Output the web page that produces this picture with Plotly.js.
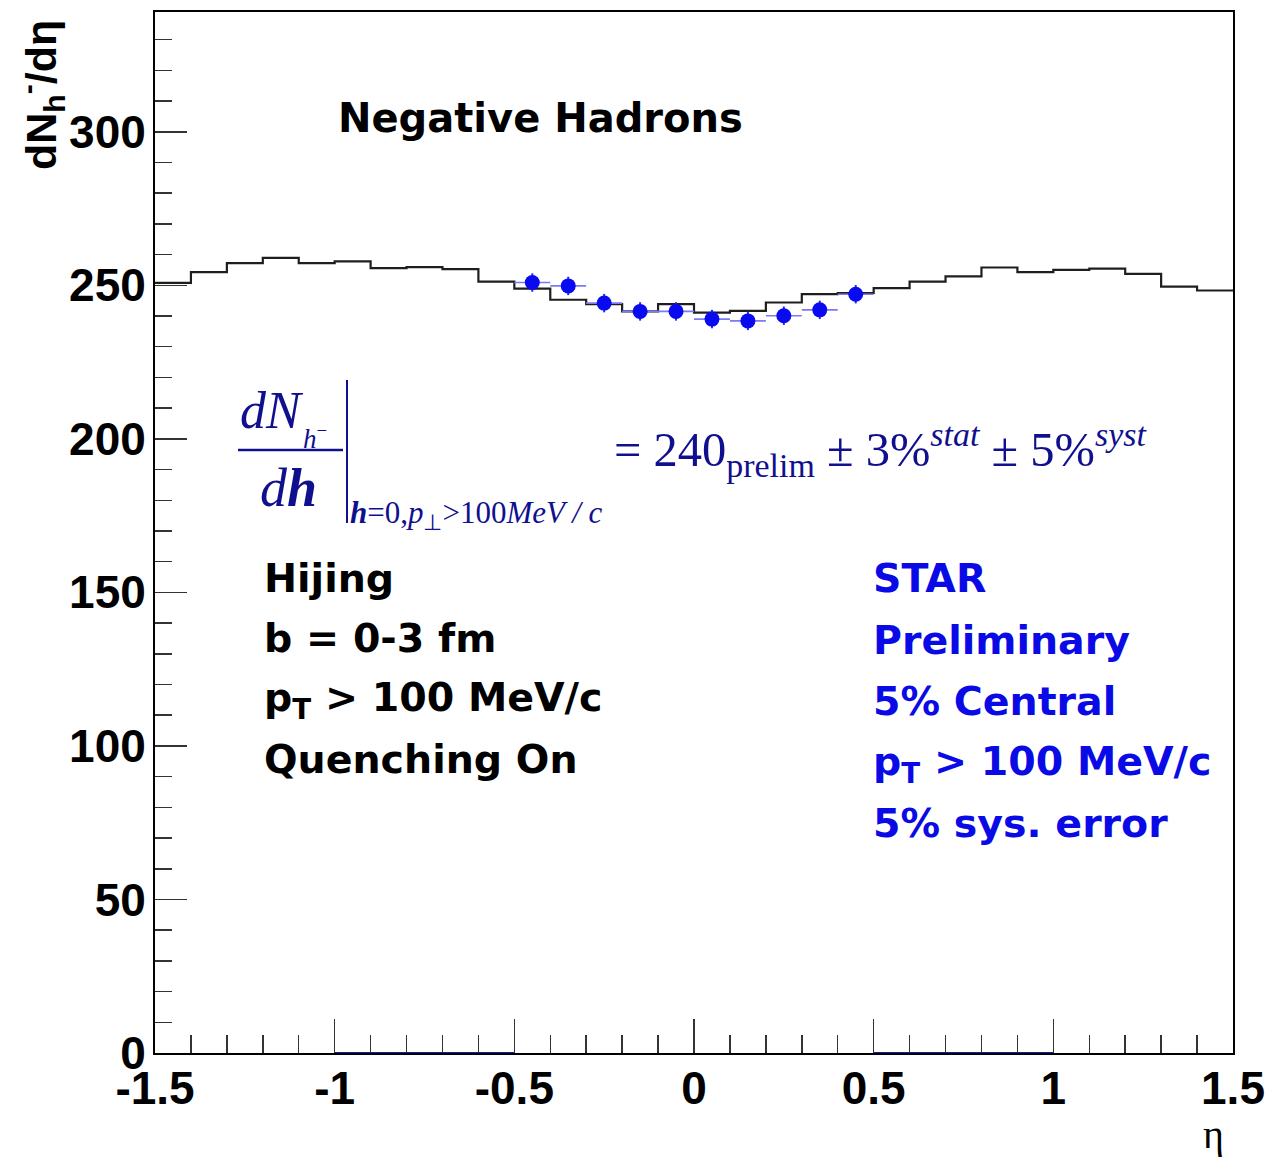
<!DOCTYPE html>
<html>
<head>
<meta charset="utf-8">
<script src="https://cdn.plot.ly/plotly-3.0.1.min.js"></script>
<style>
  html, body { margin: 0; padding: 0; background: #ffffff; }
  #chart { width: 1273px; height: 1159px; }
</style>
</head>
<body>
<div id="chart"></div>
<script>
// Hijing negative-hadron pseudorapidity density, bins of width 0.1 (lower edges)
const binLowEdges = [-1.5, -1.4, -1.3, -1.2, -1.1, -1.0, -0.9, -0.8, -0.7, -0.6,
                     -0.5, -0.4, -0.3, -0.2, -0.1, 0.0, 0.1, 0.2, 0.3, 0.4,
                     0.5, 0.6, 0.7, 0.8, 0.9, 1.0, 1.1, 1.2, 1.3, 1.4];
const binUpperEnd = 1.5;
const hijingCounts = [250.8, 254.3, 257.2, 258.9, 257.2, 257.8, 255.6, 255.9, 255.3, 251.2,
                      248.9, 245.3, 243.9, 241.5, 243.9, 241.1, 241.7, 244.4, 247.1, 247.5,
                      249.1, 251.2, 252.9, 255.8, 254.3, 255.0, 255.4, 253.7, 249.6, 248.3];

// STAR preliminary points
const starEta = [-0.45, -0.35, -0.25, -0.15, -0.05, 0.05, 0.15, 0.25, 0.35, 0.45];
const starDensity = [250.9, 249.8, 244.2, 241.5, 241.5, 239.0, 238.4, 240.1, 242.0, 247.1];
const starStatErr = [3, 3, 3, 3, 3, 3, 3, 3, 3, 3];
const starEtaHalfWidth = [0.05, 0.05, 0.05, 0.05, 0.05, 0.05, 0.05, 0.05, 0.05, 0.05];

// empty-bin outlines lying on the eta axis
const zeroSegEta = [-1.0, -0.5, null, 0.5, 1.0];
const zeroSegVal = [0, 0, null, 0, 0];

// axis ticks
const xTickVals = [-1.5, -1, -0.5, 0, 0.5, 1, 1.5];
const xTickText = ['-1.5', '-1', '-0.5', '0', '0.5', '1', '1.5'];
const yTickVals = [0, 50, 100, 150, 200, 250, 300];
const yTickText = ['0', '50', '100', '150', '200', '250', '300'];

// text blocks
const titleText = 'Negative Hadrons';
const hijingLines = ['Hijing', 'b = 0-3 fm', 'p<sub>T</sub> &gt; 100 MeV/c', 'Quenching On'];
const starLines = ['STAR', 'Preliminary', '5% Central', 'p<sub>T</sub> &gt; 100 MeV/c', '5% sys. error'];

// ---- layout geometry (pixels) ----
const W = 1273, H = 1159;
const L = 155, R = 1233, T = 12, B = 1053;
const px = x => (x - L) / (R - L);
const py = y => (B - y) / (B - T);

const histX = binLowEdges.concat([binUpperEnd]);
const histY = hijingCounts.concat([hijingCounts[hijingCounts.length - 1]]);

const traces = [
  {
    type: 'scatter', mode: 'lines',
    x: histX, y: histY,
    line: { shape: 'hv', color: '#1e1e1e', width: 2.2 },
    hoverinfo: 'skip'
  },
  {
    type: 'scatter', mode: 'lines',
    x: zeroSegEta, y: zeroSegVal,
    line: { color: '#1a1aa0', width: 2 },
    hoverinfo: 'skip'
  },
  {
    type: 'scatter', mode: 'markers',
    x: starEta, y: starDensity,
    marker: { color: '#0a0af0', size: 15, symbol: 'circle' },
    error_y: { type: 'data', array: starStatErr, visible: true, color: '#2828f0', thickness: 2, width: 0 },
    error_x: { type: 'data', array: starEtaHalfWidth, visible: true, color: '#7a7af5', thickness: 1.6, width: 0 }
  }
];

const sansBold = 'Liberation Sans, Arial, sans-serif';
const textFontFamily = 'DejaVu Sans, sans-serif';
const serif = 'Liberation Serif, Times New Roman, serif';
const navy = '#10108f';
const blue = '#0a0ae6';

const annotations = [];

// plot heading
annotations.push({
  xref: 'paper', yref: 'paper', x: px(540), y: py(118), xanchor: 'center', yanchor: 'middle',
  text: '<b>' + titleText + '</b>', showarrow: false,
  font: { family: textFontFamily, size: 40, color: '#000000' }
});

// Hijing settings block
const hijingY = [578, 638, 700, 759];
hijingLines.forEach((t, i) => {
  annotations.push({
    xref: 'paper', yref: 'paper', x: px(262), y: py(hijingY[i]), xanchor: 'left', yanchor: 'middle',
    text: '<b>' + t + '</b>', showarrow: false,
    font: { family: textFontFamily, size: 39.5, color: '#000000' }
  });
});

// STAR block
const starY = [578, 640, 701, 764, 823];
starLines.forEach((t, i) => {
  annotations.push({
    xref: 'paper', yref: 'paper', x: px(871), y: py(starY[i]), xanchor: 'left', yanchor: 'middle',
    text: '<b>' + t + '</b>', showarrow: false,
    font: { family: textFontFamily, size: 39.5, color: blue }
  });
});

// dN/deta formula: numerator
annotations.push({
  xref: 'paper', yref: 'paper', x: px(238), y: py(410), xanchor: 'left', yanchor: 'middle',
  text: '<i>dN</i>', showarrow: false,
  font: { family: serif, size: 52, color: navy }
});
annotations.push({
  xref: 'paper', yref: 'paper', x: px(301), y: py(437), xanchor: 'left', yanchor: 'middle',
  text: '<i>h</i><sup>−</sup>', showarrow: false,
  font: { family: serif, size: 27, color: navy }
});
// denominator
annotations.push({
  xref: 'paper', yref: 'paper', x: px(258), y: py(488), xanchor: 'left', yanchor: 'middle',
  text: '<i>d</i><b><i>h</i></b>', showarrow: false,
  font: { family: serif, size: 54, color: navy }
});
// evaluation condition
annotations.push({
  xref: 'paper', yref: 'paper', x: px(348), y: py(515), xanchor: 'left', yanchor: 'middle',
  text: '<b><i>h</i></b>=0,<i>p</i><sub>⊥</sub>&gt;100<i>MeV / c</i>', showarrow: false,
  font: { family: serif, size: 31, color: navy }
});
// result
annotations.push({
  xref: 'paper', yref: 'paper', x: px(612), y: py(450), xanchor: 'left', yanchor: 'middle',
  text: '= 240<sub>prelim</sub> ± 3%<sup><i>stat</i></sup> ± 5%<sup><i>syst</i></sup>', showarrow: false,
  font: { family: serif, size: 48.5, color: navy }
});

// y-axis title
annotations.push({
  xref: 'paper', yref: 'paper', x: px(41), y: py(95), xanchor: 'center', yanchor: 'middle',
  textangle: -90,
  text: '<b>dN<sub>h</sub><sup>-</sup>/dη</b>', showarrow: false,
  font: { family: sansBold, size: 43, color: '#000000' }
});
// x-axis title
annotations.push({
  xref: 'paper', yref: 'paper', x: px(1213), y: py(1134), xanchor: 'center', yanchor: 'middle',
  text: 'η', showarrow: false,
  font: { family: serif, size: 40, color: '#000000' }
});

const shapes = [
  // fraction bar
  { type: 'line', xref: 'paper', yref: 'paper', x0: px(238), x1: px(343), y0: py(450), y1: py(450),
    line: { color: navy, width: 2.5 } },
  // evaluation bar
  { type: 'line', xref: 'paper', yref: 'paper', x0: px(347), x1: px(347), y0: py(380), y1: py(523),
    line: { color: navy, width: 2 } }
];

const layout = {
  width: W, height: H, autosize: false,
  margin: { l: L, r: W - R, t: T, b: H - B, pad: 0 },
  paper_bgcolor: '#ffffff', plot_bgcolor: '#ffffff',
  showlegend: false,
  xaxis: {
    range: [-1.5, 1.5], tickmode: 'array', tickvals: xTickVals, ticktext: xTickText,
    ticks: 'inside', ticklen: 34, tickwidth: 1.5, tickcolor: '#333333',
    minor: { tickmode: 'linear', tick0: -1.5, dtick: 0.1, ticks: 'inside', ticklen: 18, tickwidth: 1.5, tickcolor: '#333333', showgrid: false },
    showline: true, linecolor: '#000000', linewidth: 2, mirror: true,
    showgrid: false, zeroline: false, layer: 'below traces',
    tickfont: { family: sansBold, size: 46, color: '#000000', weight: 'bold' },
    ticklabelstandoff: -6
  },
  yaxis: {
    range: [0, 339], tickmode: 'array', tickvals: yTickVals, ticktext: yTickText,
    ticks: 'inside', ticklen: 32, tickwidth: 1.5, tickcolor: '#333333',
    minor: { tickmode: 'linear', tick0: 0, dtick: 10, ticks: 'inside', ticklen: 17, tickwidth: 1.5, tickcolor: '#333333', showgrid: false },
    showline: true, linecolor: '#000000', linewidth: 2, mirror: true,
    showgrid: false, zeroline: false,
    tickfont: { family: sansBold, size: 46, color: '#000000', weight: 'bold' },
    ticklabelstandoff: -2
  },
  annotations: annotations,
  shapes: shapes
};

Plotly.newPlot('chart', traces, layout, { displayModeBar: false, staticPlot: true });
</script>
</body>
</html>
